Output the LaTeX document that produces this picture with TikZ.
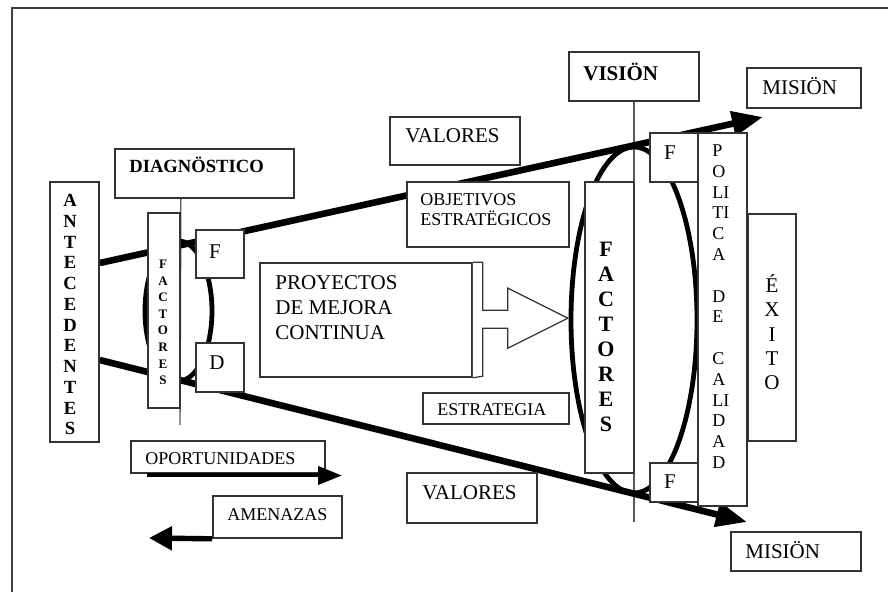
\documentclass[tikz,border=0pt]{standalone}
\usepackage{fontspec}
\setmainfont{Liberation Serif}
\usetikzlibrary{arrows.meta,fit,backgrounds}
\begin{document}
\begin{tikzpicture}[x=0.5pt,y=-0.5pt,
  box/.style={draw=black!80,line width=0.8pt,fill=white,inner sep=0pt},
  frameline/.style={draw=black!75,line width=1pt},
  guide/.style={draw=black!65,line width=0.7pt},
  ring/.style={draw=black,line width=2.4pt},
  flow/.style={draw=black,line width=3.3pt,-{Triangle[length=15.5pt,width=12pt]}},
  lbl/.style={inner sep=0pt,text height=0.66em,text depth=0pt,anchor=west},
  stk/.style={inner sep=0pt,text height=0.66em,text depth=0pt},
  ml/.style={inner sep=0pt,anchor=north west,align=left},
  fA/.style={font=\fontsize{10.5}{12.5}\selectfont},
  fB/.style={font=\fontsize{9}{10.25}\selectfont},
  fAb/.style={font=\fontsize{10.5}{12.5}\selectfont\bfseries},
  fBb/.style={font=\fontsize{9.3}{10.25}\selectfont\bfseries},
]
\useasboundingbox (0,0) rectangle (888,592);

% ---- boxes ----
\node[box,fit={(50,182) (99,442)}] (ant) {};
\node[box,fit={(115,149) (294,198)}] (diag) {};
\node[box,fit={(148,213) (180,408)}] (fsm) {};
\node[box,fit={(196,230) (244,278)}] (fL) {};
\node[box,fit={(196,343) (244,392)}] (dL) {};
\node[box,fit={(390,117) (520,165)}] (valU) {};
\node[box,fit={(407,182) (569,247)}] (obj) {};
\node[box,fit={(260,263) (472,377)}] (proy) {};
% block arrow leaving the project box
\draw[box,line width=0.6pt] (proy.north east) -- ++(10,0) -- ++(0,48) -- ++(25,0)
  -- ++(0,-22) -- ++(60,30) -- ++(-60,30) -- ++(0,-20) -- ++(-25,0) -- ++(0,48)
  -- (proy.south east);
\node[box,fit={(423,393) (569,424)}] (estr) {};
\node[box,fit={(407,473) (537,523)}] (valD) {};
\node[box,fit={(131,441) (325,473)}] (opo) {};
\node[box,fit={(213,496) (342,538)}] (ame) {};
\node[box,fit={(569,52) (699,101)}] (vis) {};
\node[box,fit={(585,182) (634,473)}] (fbig) {};
\node[box,fit={(650,133) (698,182)}] (fR1) {};
\node[box,fit={(650,463) (698,502)}] (fR2) {};
\node[box,fit={(698,133) (747,506)}] (pol) {};
\node[box,fit={(748,214) (796,441)}] (exi) {};
\node[box,fit={(747,68) (861,108)}] (misU) {};
\node[box,fit={(731,532) (861,571)}] (misD) {};

% ---- lines behind the boxes ----
\begin{scope}[on background layer]
  \draw[frameline] (12,592) -- (12,8) -- (888,8);
  \coordinate (diagEnd) at (180,425);
  \coordinate (visEnd) at (634,522);
  \draw[guide] (diag.south -| fsm.east) -- (diagEnd);
  \draw[guide] (vis.south) -- (visEnd);
  \draw[ring] (178.5,311) ellipse [x radius=16.75pt,y radius=35pt];
  \draw[ring] (634,320) ellipse [x radius=31.5pt,y radius=86.5pt];
  \coordinate (tipU) at (763,117);
  \coordinate (tipD) at (747,522);
  \draw[flow] ([yshift=24.5pt]ant.east) -- (tipU);
  \draw[flow] ([yshift=-24pt]ant.east) -- (tipD);
\end{scope}

% ---- side arrows ----
\coordinate (opoS) at (147,475.5);
\coordinate (opoE) at (342,475.5);
\draw[line width=2pt,-{Triangle[length=12pt,width=9pt]}] (opoS) -- (opoE);
\coordinate (ameE) at (149,538);
\draw[line width=2.7pt,-{Triangle[length=11.5pt,width=11.5pt]}] (ame.south west) -- (ameE);

% ---- labels ----
\node[lbl,fBb] (diagT) at (129,166) {DIAGNÖSTICO};
\node[lbl,fAb] (visT) at (583,74) {VISIÖN};
\node[lbl,fA] (misUT) at (762,88) {MISIÖN};
\node[lbl,fA] (misDT) at (745,552) {MISIÖN};
\node[lbl,fA] (valUT) at (405,136) {VALORES};
\node[lbl,fA] (valDT) at (422,493) {VALORES};
\node[ml,fB] (objT) at (420,193) {OBJETIVOS\\ESTRATËGICOS};
\node[ml,fA] (proyT) at (275,275) {PROYECTOS\\DE MEJORA\\CONTINUA};
\node[lbl,fB] (estrT) at (437,409) {ESTRATEGIA};
\node[lbl,fB] (opoT) at (145,458) {OPORTUNIDADES};
\node[lbl,fB] (ameT) at (227,513.5) {AMENAZAS};
\node[stk,fA] (fLT) at (215,252) {F};
\node[stk,fA] (dLT) at (217,363) {D};
\node[stk,fA] (fR1T) at (670,153) {F};
\node[stk,fA] (fR2T) at (670,482) {F};

% ---- vertical lettering ----
\foreach \l [count=\i from 0] in {A,N,T,E,C,E,D,E,N,T,E,S}
  \node[stk,fBb] (antL\i) at (70,{200+\i*20.75}) {\l};
\foreach \l [count=\i from 0] in {F,A,C,T,O,R,E,S}
  \node[stk,font=\fontsize{6.5}{7}\selectfont\bfseries] (fsmL\i) at (163,{262+\i*16.6}) {\l};
\foreach \l [count=\i from 0] in {F,A,C,T,O,R,E,S}
  \node[stk,font=\fontsize{11}{12}\selectfont\bfseries] (fbigL\i) at (606,{250+\i*25}) {\l};
\foreach \i/\l in {0/P,1/O,2/LI,3/TI,4/C,5/A,7/D,8/E,10/C,11/A,12/LI,13/D,14/A,15/D}
  \node[stk,fB,anchor=west] (polL\i) at (712,{150+\i*20.8}) {\l};
\foreach \l [count=\i from 0] in {É,X,I,T,O}
  \node[stk,fA] (exiL\i) at (772,{286+\i*24.25}) {\l};
\end{tikzpicture}
\end{document}
